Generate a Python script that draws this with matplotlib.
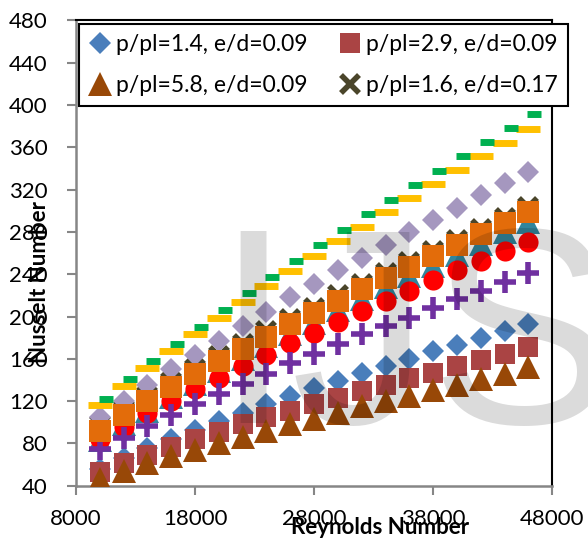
import matplotlib
matplotlib.use("Agg")
import matplotlib.pyplot as plt

# ---- data ----
re = [10000, 12000, 14000, 16000, 18000, 20000, 22000, 24000, 26000, 28000,
      30000, 32000, 34000, 36000, 38000, 40000, 42000, 44000, 46000]
re_green = [10500, 12500, 14500, 16500, 18500, 20500, 22500, 24500, 26500, 28500,
            30500, 32500, 34500, 36500, 38500, 40500, 42500, 44500, 46500]

nu_blue = [56, 66.5, 75.5, 84.5, 92.5, 101, 109, 117, 125, 132, 139, 146.5, 153, 160, 167, 173.5, 180, 186.5, 193]
nu_redsq = [53, 61, 69.5, 77, 84, 90.5, 98, 104.5, 111, 117, 123, 129.5, 135.5, 141.5, 147, 153, 159, 165, 171]
nu_tri = [46.5, 54, 61, 68, 74, 80, 86, 92, 98, 103.5, 109, 115, 120, 125, 130.5, 135.5, 141, 146, 152]
nu_x = [97, 112, 125, 138, 150.5, 162.5, 174, 186, 197.5, 208, 220, 231, 241.5, 252, 262, 272.5, 283, 293.5, 303.5]
nu_teal = [83, 98, 111, 124, 136.5, 148.5, 160, 172, 183.5, 194, 206, 217, 227.5, 238, 248, 258.5, 269, 279.5, 289.5]
nu_red = [84, 95.5, 108.5, 120, 131.5, 142, 153.5, 164, 174.5, 184.5, 195, 205, 215, 224.5, 234.5, 243.5, 252.5, 261.5, 270.5]
nu_purple = [75, 85.5, 96.5, 107, 117, 126.5, 136.5, 146, 156, 165, 174, 183, 191, 199, 208, 216.5, 224.5, 233, 241]
nu_lav = [105, 120.5, 135, 150, 164, 177, 191, 204.5, 218, 230.5, 243.5, 255.5, 268, 279.5, 291, 303, 314.5, 326, 336.5]
nu_orange = [92, 107, 120, 133, 145.5, 157.5, 169, 181, 192.5, 203, 215, 226, 236.5, 247, 257, 267.5, 278, 288.5, 298.5]
nu_yellow = [116.5, 134, 151, 167.5, 183, 198.5, 214, 228.5, 243, 257, 271, 285, 298.5, 312, 325, 338.5, 351.5, 364.5, 377]
nu_green = [122, 140.5, 157.5, 174, 190.5, 206.5, 222, 237.5, 252.5, 267.5, 282, 296.5, 310.5, 324.5, 338, 351.5, 365, 378.5, 391.5]

labels = ["p/pl=1.4, e/d=0.09", "p/pl=2.9, e/d=0.09",
          "p/pl=5.8, e/d=0.09", "p/pl=1.6, e/d=0.17"]
xticks = [8000, 18000, 28000, 38000, 48000]
yticks = [40, 80, 120, 160, 200, 240, 280, 320, 360, 400, 440, 480]

plt.rcParams['font.family'] = ['Lato', 'DejaVu Sans']

fig = plt.figure(figsize=(5.88, 5.42), dpi=100)
ax = fig.add_axes([76/588, 1-485.7/542, 476.2/588, 465.3/542])

h0, = ax.plot(re, nu_blue, ls='none', marker='D', ms=11.5, mfc='#4A7EBB', mec='#4A7EBB', mew=0, label=labels[0], zorder=3)
h1, = ax.plot(re, nu_redsq, ls='none', marker='s', ms=15, mfc='#AA4444', mec='#AA4444', mew=0, label=labels[1], zorder=3)
h2, = ax.plot(re, nu_tri, ls='none', marker='^', ms=17, mfc='#984807', mec='#984807', mew=0, label=labels[2], zorder=3)
h3, = ax.plot(re, nu_x, ls='none', marker='x', ms=13, mec='#4A452A', mew=4, label=labels[3], zorder=3)
ax.plot(re, nu_teal, ls='none', marker='^', ms=17, mfc='#31859C', mec='#31859C', mew=0, zorder=3)
ax.plot(re, nu_red, ls='none', marker='o', ms=14.5, mfc='#FF0000', mec='#FF0000', mew=0, zorder=3)
ax.plot(re, nu_purple, ls='none', marker='+', ms=16, mec='#7030A0', mew=4, zorder=3)
ax.plot(re, nu_lav, ls='none', marker='D', ms=11.5, mfc='#A597BF', mec='#A597BF', mew=0, zorder=3)
ax.plot(re, nu_orange, ls='none', marker='s', ms=15.5, mfc='#E36C0A', mec='#E36C0A', mew=0, zorder=3)
ax.plot(re, nu_yellow, ls='none', marker='_', ms=17, mec='#FFC000', mew=5, zorder=3)
ax.plot(re_green, nu_green, ls='none', marker='_', ms=10.5, mec='#00B050', mew=5, zorder=3)

ax.set_xlim(8000, 48000)
ax.set_ylim(40, 480)
ax.set_xticks(xticks)
ax.set_yticks(yticks)
ax.tick_params(axis='both', direction='out', length=6.5, width=1.5, color='#868686',
               labelsize=16, labelcolor='black')
ax.tick_params(axis='y', pad=14)
ax.tick_params(axis='x', pad=10)

for s in ['left', 'bottom']:
    ax.spines[s].set_color('#868686')
    ax.spines[s].set_linewidth(1.8)
for s in ['top', 'right']:
    ax.spines[s].set_color('black')
    ax.spines[s].set_linewidth(1.5)

ax.set_xlabel('Reynolds Number', fontsize=16, fontweight='bold')
ax.xaxis.set_label_coords((380-76)/476.2, (485.7-528)/465.3)
ax.xaxis.label.set_va('center')
ax.set_ylabel('Nusselt Number', fontsize=16, fontweight='bold')
ax.yaxis.set_label_coords((40-76)/476.2, (485.7-282)/465.3)
ax.yaxis.label.set_va('center')

# row-wise legend order: (1.4, 2.9) on row 1, (5.8, 1.6) on row 2
leg = ax.legend([h0, h2, h1, h3], [labels[0], labels[2], labels[1], labels[3]],
                loc='upper left', ncol=2, mode='expand',
                bbox_to_anchor=(79/588, 1-106/542, 489/588, 82/542),
                bbox_transform=fig.transFigure,
                fontsize=16.5, frameon=True, fancybox=False, framealpha=1,
                edgecolor='black', handlelength=0.9, handletextpad=0.25,
                borderpad=0.45, labelspacing=0.85, columnspacing=0.5,
                borderaxespad=0)
leg.get_frame().set_linewidth(1.5)
leg.set_zorder(10)

fig.text(214/588, 1-423/542, 'IJS', fontsize=200, family='Liberation Sans',
         color='black', alpha=0.14, ha='left', va='baseline', zorder=20)

fig.savefig('out.png', dpi=100)
